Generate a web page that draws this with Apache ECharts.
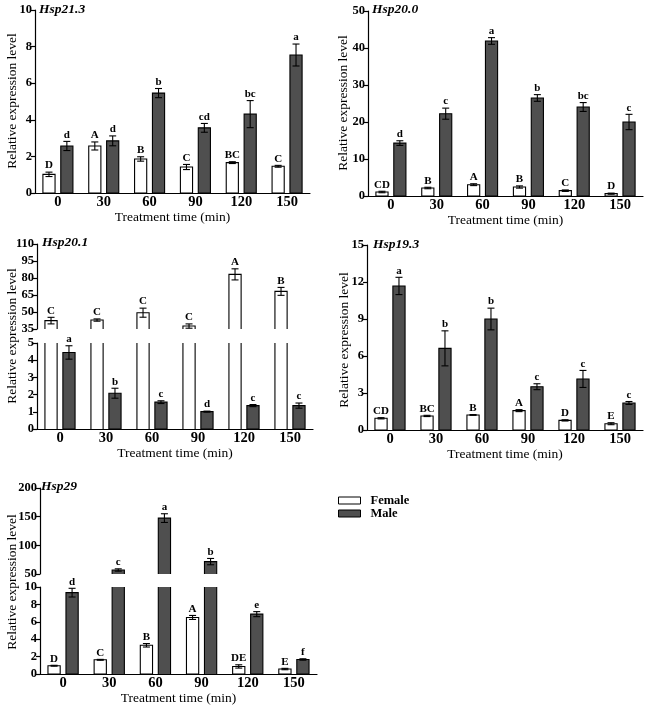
<!DOCTYPE html>
<html>
<head>
<meta charset="utf-8">
<script src="https://cdn.jsdelivr.net/npm/echarts@6/dist/echarts.min.js"></script>
<style>html,body{margin:0;padding:0;background:#fff;}#c{width:649px;height:708px;}</style>
</head>
<body>
<div id="c"></div>
<script>
const categories = ['0', '30', '60', '90', '120', '150'];

// Hsp21.3
const hsp213Ticks = [0, 2, 4, 6, 8, 10];
const hsp213Female = [1.02, 2.57, 1.86, 1.42, 1.66, 1.46];
const hsp213FemaleErr = [0.12, 0.22, 0.12, 0.14, 0.05, 0.05];
const hsp213FemaleSig = ['D', 'A', 'B', 'C', 'BC', 'C'];
const hsp213Male = [2.57, 2.85, 5.46, 3.56, 4.31, 7.54];
const hsp213MaleErr = [0.25, 0.27, 0.25, 0.24, 0.74, 0.6];
const hsp213MaleSig = ['d', 'd', 'b', 'cd', 'bc', 'a'];

// Hsp20.0
const hsp200Ticks = [0, 10, 20, 30, 40, 50];
const hsp200Female = [1.08, 2.16, 3.06, 2.43, 1.44, 0.63];
const hsp200FemaleErr = [0.2, 0.2, 0.25, 0.3, 0.2, 0.15];
const hsp200FemaleSig = ['CD', 'B', 'A', 'B', 'C', 'D'];
const hsp200Male = [14.3, 22.25, 41.9, 26.5, 24.05, 20.0];
const hsp200MaleErr = [0.63, 1.5, 0.9, 0.9, 1.2, 2.07];
const hsp200MaleSig = ['d', 'c', 'a', 'b', 'bc', 'c'];

// Hsp20.1 (broken axis)
const hsp201UpperTicks = [35, 50, 65, 80, 95, 110];
const hsp201LowerTicks = [0, 1, 2, 3, 4, 5];
const hsp201Female = [42.4, 42.9, 49.4, 37.6, 83.2, 68.2];
const hsp201FemaleErr = [2.9, 1.0, 4.0, 1.9, 4.9, 3.5];
const hsp201FemaleSig = ['C', 'C', 'C', 'C', 'A', 'B'];
const hsp201Male = [4.45, 2.08, 1.56, 1.01, 1.36, 1.36];
const hsp201MaleErr = [0.39, 0.29, 0.08, 0.03, 0.06, 0.15];
const hsp201MaleSig = ['a', 'b', 'c', 'd', 'c', 'c'];

// Hsp19.3
const hsp193Ticks = [0, 3, 6, 9, 12, 15];
const hsp193Female = [0.95, 1.14, 1.22, 1.57, 0.78, 0.51];
const hsp193FemaleErr = [0.05, 0.05, 0.03, 0.08, 0.05, 0.08];
const hsp193FemaleSig = ['CD', 'BC', 'B', 'A', 'D', 'E'];
const hsp193Male = [11.68, 6.62, 9.0, 3.51, 4.14, 2.19];
const hsp193MaleErr = [0.7, 1.42, 0.88, 0.24, 0.69, 0.12];
const hsp193MaleSig = ['a', 'b', 'b', 'c', 'c', 'c'];

// Hsp29 (broken axis)
const hsp29UpperTicks = [50, 100, 150, 200];
const hsp29LowerTicks = [0, 2, 4, 6, 8, 10];
const hsp29Female = [0.95, 1.63, 3.3, 6.5, 0.87, 0.57];
const hsp29FemaleErr = [0.05, 0.05, 0.2, 0.23, 0.19, 0.08];
const hsp29FemaleSig = ['D', 'C', 'B', 'A', 'DE', 'E'];
const hsp29Male = [9.35, 57, 147.5, 71.6, 6.88, 1.67];
const hsp29MaleErr = [0.5, 2, 7.6, 5.5, 0.29, 0.08];
const hsp29MaleSig = ['d', 'c', 'a', 'b', 'e', 'f'];

const FONT = 'Liberation Serif';
const MALE_COLOR = '#4f4f4f';

function barRender(vals, errs, sig, side, fill, yMin, yMax) {
  return function (params, api) {
    const i = params.dataIndex;
    const v = vals[i], e = errs[i];
    if (v <= yMin) return { type: 'group', children: [] };
    const band = api.size([1, 0])[0];
    const cx = api.coord([i, 0])[0] + side * band * 0.195;
    const w = band * 0.265;
    const xl = cx - w / 2, xr = cx + w / 2;
    const base = Math.max(yMin, 0);
    const top = Math.min(v, yMax);
    const yB = api.coord([i, base])[1];
    const yT = api.coord([i, top])[1];
    const kids = [{ type: 'rect', shape: { x: xl, y: yT, width: w, height: yB - yT }, style: { fill: fill } }];
    const closedTop = v <= yMax;
    const closedBottom = yMin <= 0;
    const ls = { fill: null, stroke: '#000', lineWidth: 1.1 };
    if (closedTop) {
      const pts = closedBottom ? [[xl, yB], [xl, yT], [xr, yT], [xr, yB], [xl, yB]] : [[xl, yB], [xl, yT], [xr, yT], [xr, yB]];
      kids.push({ type: 'polyline', shape: { points: pts }, style: ls });
      const yE1 = api.coord([i, Math.max(v - e, base)])[1];
      const yE2 = api.coord([i, v + e])[1];
      const cap = 3.5;
      kids.push({ type: 'line', shape: { x1: cx, y1: yE1, x2: cx, y2: yE2 }, style: ls });
      kids.push({ type: 'line', shape: { x1: cx - cap, y1: yE1, x2: cx + cap, y2: yE1 }, style: ls });
      kids.push({ type: 'line', shape: { x1: cx - cap, y1: yE2, x2: cx + cap, y2: yE2 }, style: ls });
      kids.push({ type: 'text', style: { text: sig[i], x: cx, y: yE2 - 1, align: 'center', verticalAlign: 'bottom', font: 'bold 11px "Liberation Serif"', fill: '#000' } });
    } else {
      kids.push({ type: 'line', shape: { x1: xl, y1: yB, x2: xl, y2: yT }, style: ls });
      kids.push({ type: 'line', shape: { x1: xr, y1: yB, x2: xr, y2: yT }, style: ls });
    }
    return { type: 'group', children: kids };
  };
}

function yAx(gridIndex, ticks) {
  return {
    type: 'value', gridIndex: gridIndex,
    min: ticks[0], max: ticks[ticks.length - 1], interval: ticks[1] - ticks[0],
    axisLine: { show: true, lineStyle: { color: '#000', width: 1.2 } },
    axisTick: { show: true, length: 4, lineStyle: { color: '#000', width: 1.2 } },
    axisLabel: { color: '#000', fontWeight: 'bold', fontSize: 12.5, fontFamily: FONT, margin: 3, showMinLabel: true, showMaxLabel: true },
    splitLine: { show: false }
  };
}
function xAx(gridIndex, visible) {
  return {
    type: 'category', gridIndex: gridIndex, data: categories, show: visible,
    axisLine: { lineStyle: { color: '#000', width: 1.2 } },
    axisTick: { show: false },
    axisLabel: { color: '#000', fontWeight: 'bold', fontSize: 14.5, fontFamily: FONT, margin: 2 },
    name: 'Treatment time (min)', nameLocation: 'middle', nameGap: 17,
    nameTextStyle: { color: '#000', fontSize: 13.5, fontFamily: FONT }
  };
}

const grids = [
  { left: 35, top: 10, width: 275, height: 183 },
  { left: 368, top: 11, width: 275, height: 185 },
  { left: 37, top: 244, width: 276, height: 85 },
  { left: 37, top: 343, width: 276, height: 86 },
  { left: 367, top: 245, width: 276, height: 185 },
  { left: 40, top: 488, width: 277, height: 86 },
  { left: 40, top: 587, width: 277, height: 87 }
];

const xAxes = [xAx(0, true), xAx(1, true), xAx(2, false), xAx(3, true), xAx(4, true), xAx(5, false), xAx(6, true)];
const yTicksList = [hsp213Ticks, hsp200Ticks, hsp201UpperTicks, hsp201LowerTicks, hsp193Ticks, hsp29UpperTicks, hsp29LowerTicks];
const yAxes = yTicksList.map((t, i) => yAx(i, t));

const panels = [
  { g: 0, f: hsp213Female, fe: hsp213FemaleErr, fs: hsp213FemaleSig, m: hsp213Male, me: hsp213MaleErr, ms: hsp213MaleSig },
  { g: 1, f: hsp200Female, fe: hsp200FemaleErr, fs: hsp200FemaleSig, m: hsp200Male, me: hsp200MaleErr, ms: hsp200MaleSig },
  { g: 2, f: hsp201Female, fe: hsp201FemaleErr, fs: hsp201FemaleSig, m: hsp201Male, me: hsp201MaleErr, ms: hsp201MaleSig },
  { g: 3, f: hsp201Female, fe: hsp201FemaleErr, fs: hsp201FemaleSig, m: hsp201Male, me: hsp201MaleErr, ms: hsp201MaleSig },
  { g: 4, f: hsp193Female, fe: hsp193FemaleErr, fs: hsp193FemaleSig, m: hsp193Male, me: hsp193MaleErr, ms: hsp193MaleSig },
  { g: 5, f: hsp29Female, fe: hsp29FemaleErr, fs: hsp29FemaleSig, m: hsp29Male, me: hsp29MaleErr, ms: hsp29MaleSig },
  { g: 6, f: hsp29Female, fe: hsp29FemaleErr, fs: hsp29FemaleSig, m: hsp29Male, me: hsp29MaleErr, ms: hsp29MaleSig }
];

const series = [];
panels.forEach(p => {
  const t = yTicksList[p.g];
  const yMin = t[0], yMax = t[t.length - 1];
  series.push({
    type: 'custom', name: 'Female', xAxisIndex: p.g, yAxisIndex: p.g,
    itemStyle: { color: '#fff', borderColor: '#000', borderWidth: 1 },
    encode: { x: 0, y: 1 },
    data: p.f.map((v, i) => [i, v]),
    renderItem: barRender(p.f, p.fe, p.fs, -1, '#fff', yMin, yMax)
  });
  series.push({
    type: 'custom', name: 'Male', xAxisIndex: p.g, yAxisIndex: p.g,
    itemStyle: { color: MALE_COLOR, borderColor: '#000', borderWidth: 1 },
    encode: { x: 0, y: 1 },
    data: p.m.map((v, i) => [i, v]),
    renderItem: barRender(p.m, p.me, p.ms, 1, MALE_COLOR, yMin, yMax)
  });
});

const titles = [
  { text: 'Hsp21.3', x: 39, y: 9.5 },
  { text: 'Hsp20.0', x: 372, y: 9.5 },
  { text: 'Hsp20.1', x: 42, y: 243 },
  { text: 'Hsp19.3', x: 373, y: 245 },
  { text: 'Hsp29', x: 41, y: 487 }
];
const yNames = [
  { x: 12, y: 101 }, { x: 343, y: 103 }, { x: 12, y: 336 }, { x: 344, y: 340 }, { x: 12, y: 582 }
];
const graphic = [];
titles.forEach(t => graphic.push({
  type: 'text', x: t.x, y: t.y,
  style: { text: t.text, font: 'italic bold 13.5px "Liberation Serif"', fill: '#000', align: 'left', verticalAlign: 'middle' }
}));
yNames.forEach(n => graphic.push({
  type: 'text', x: n.x, y: n.y, rotation: Math.PI / 2,
  style: { text: 'Relative expression level', font: '13.5px "Liberation Serif"', fill: '#000', align: 'center', verticalAlign: 'middle' }
}));

const chart = echarts.init(document.getElementById('c'), null, { renderer: 'canvas' });
chart.setOption({
  animation: false,
  backgroundColor: '#fff',
  textStyle: { fontFamily: FONT },
  grid: grids,
  xAxis: xAxes,
  yAxis: yAxes,
  legend: {
    orient: 'vertical', left: 338, top: 494, padding: 0, itemWidth: 22, itemHeight: 7, itemGap: 0,
    textStyle: { color: '#000', fontWeight: 'bold', fontSize: 12.5, fontFamily: FONT, padding: [0, 0, 0, 5] },
    data: [
      { name: 'Female', icon: 'rect', itemStyle: { color: '#fff', borderColor: '#000', borderWidth: 1 } },
      { name: 'Male', icon: 'rect', itemStyle: { color: MALE_COLOR, borderColor: '#000', borderWidth: 1 } }
    ]
  },
  graphic: graphic,
  series: series
});
</script>
</body>
</html>
